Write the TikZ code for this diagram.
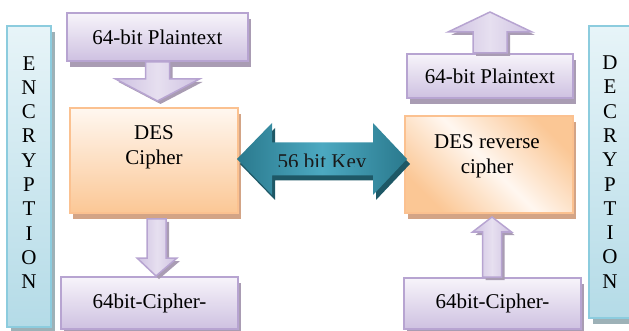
\documentclass[tikz,border=0pt]{standalone}
\usepackage{fontspec}
\setmainfont{Liberation Serif}
\usetikzlibrary{%
  calc,%
  positioning,%
  shadows%
}
\definecolor{plainline}{HTML}{B7A4D1}
\definecolor{plaintop}{HTML}{F7F4FA}
\definecolor{plainbot}{HTML}{CEC1E1}
\definecolor{plainshade}{HTML}{A99CB3}
\definecolor{desline}{HTML}{FBC190}
\definecolor{destop}{HTML}{FFF7F0}
\definecolor{desbot}{HTML}{FBC795}
\definecolor{desshade}{HTML}{D3A486}
\definecolor{sideline}{HTML}{8CCCDE}
\definecolor{sidetop}{HTML}{E7F4F8}
\definecolor{sidebot}{HTML}{B4DBE7}
\definecolor{sideshade}{HTML}{9DB1B7}
\definecolor{keydark}{HTML}{2A798D}
\definecolor{keylight}{HTML}{4CA9C1}
\definecolor{keyshade}{HTML}{1E5866}

\begin{document}
\begin{tikzpicture}[x=1pt,y=-1pt,
  every node/.style={font=\fontsize{21}{25}\selectfont,inner sep=0pt},
  plainbox/.style={draw=plainline,line width=2pt,top color=plaintop,bottom color=plainbot,
    drop shadow={shadow xshift=3pt,shadow yshift=-6pt,fill=plainshade,opacity=1}},
  desbox/.style={draw=desline,line width=2pt,
    drop shadow={shadow xshift=3pt,shadow yshift=-6pt,fill=desshade,opacity=1}},
  sidebox/.style={draw=sideline,line width=2pt,top color=sidetop,bottom color=sidebot,
    drop shadow={shadow xshift=4pt,shadow yshift=-6pt,fill=sideshade,opacity=1}},
  sideletters/.style={align=center,font=\fontsize{21}{24.3}\selectfont},
  plainarrow/.style={draw=plainline,line width=1.5pt,left color=plainbot,right color=plainbot,
    middle color=plaintop!60!plainbot,
    drop shadow={shadow xshift=3pt,shadow yshift=-3pt,fill=plainshade,opacity=1}},
  keyarrow/.style={left color=keydark,right color=keydark,middle color=keylight,
    drop shadow={shadow xshift=3pt,shadow yshift=-5pt,fill=keyshade,opacity=1}}
]
  \useasboundingbox (0,0) rectangle (629,331);

  % side bars
  \node[sidebox,minimum width=44,minimum height=300] (encbar) at (29,176.5) {};
  \node[sideletters] (enctxt) at (29,172.5) {E\\N\\C\\R\\Y\\P\\T\\I\\O\\N};
  \node[sidebox,minimum width=42,minimum height=292] (decbar) at (610,172) {};
  \node[sideletters] (dectxt) at (610,172) {D\\E\\C\\R\\Y\\P\\T\\I\\O\\N};

  % encryption side
  \node[plainbox,minimum width=181,minimum height=48] (ptxtL) at (157.5,37) {64-bit Plaintext};
  \node[desbox,top color=destop,bottom color=desbot,minimum width=168,minimum height=105]
    (desL) at (154,160.5) {};
  \node[align=center] (desLtxt) at ($(desL.north)+(0,40)$) {DES\\Cipher};
  \node[plainbox,minimum width=177,minimum height=52] (ctxtL) at (149.5,303) {64bit-Cipher-};

  % decryption side
  \node[plainbox,minimum width=166,minimum height=44] (ptxtR) at (490,76) {64-bit Plaintext};
  \node[desbox,left color=desbot,right color=desbot,middle color=destop,shading angle=135,
    minimum width=168,minimum height=97] (desR) at (489,164.5) {};
  \node[align=center] (desRtxt) at ($(desR.north)+(-2,41)$) {DES reverse\\cipher};
  \node[plainbox,minimum width=177,minimum height=51] (ctxtR) at (492.5,303.5) {64bit-Cipher-};

  % block arrows
  \coordinate (a1) at ($(ptxtL.south)+(-12,0)$);
  \draw[plainarrow] (a1) -- ++(0,17) -- ++(-30,0) -- ($(ptxtL.south)+(0,39)$)
    -- ++(42,-22) -- ++(-30,0) -- ++(0,-17) -- cycle;
  \coordinate (a2) at (147,219);
  \draw[plainarrow] (a2) -- ++(0,39) -- ++(-10,0) -- ++(19,18) -- ++(21,-18)
    -- ++(-11,0) -- ++(0,-39) -- cycle;
  \coordinate (a3) at ($(ptxtR.north)+(-17,0)$);
  \draw[plainarrow] (a3) -- ++(0,-21) -- ++(-25,0) -- ++(42,-20) -- ++(42,20)
    -- ++(-25,0) -- ++(0,21) -- cycle;
  \coordinate (a4) at ($(ctxtR.north)+(-10,0)$);
  \draw[plainarrow] (a4) -- ++(0,-45) -- ++(-10,0) -- ++(19.5,-15) -- ++(19.5,15)
    -- ++(-10,0) -- ++(0,45) -- cycle;

  % key arrow
  \coordinate (keyL) at (237,159);
  \coordinate (keyR) at (407,159);
  \path[keyarrow] (keyL) -- ++(35,-36) -- ++(0,19.5) -- ++(101,0) -- ++(0,-19.5)
    -- (keyR) -- ++(-34,36) -- ++(0,-19.5) -- ++(-101,0) -- ++(0,19.5) -- cycle;
  \begin{scope}
    \clip (272,140) rectangle (373,167);
    \node[text=black!90,anchor=base] (keytxt) at (322,169) {56 bit Key};
  \end{scope}
\end{tikzpicture}
\end{document}
